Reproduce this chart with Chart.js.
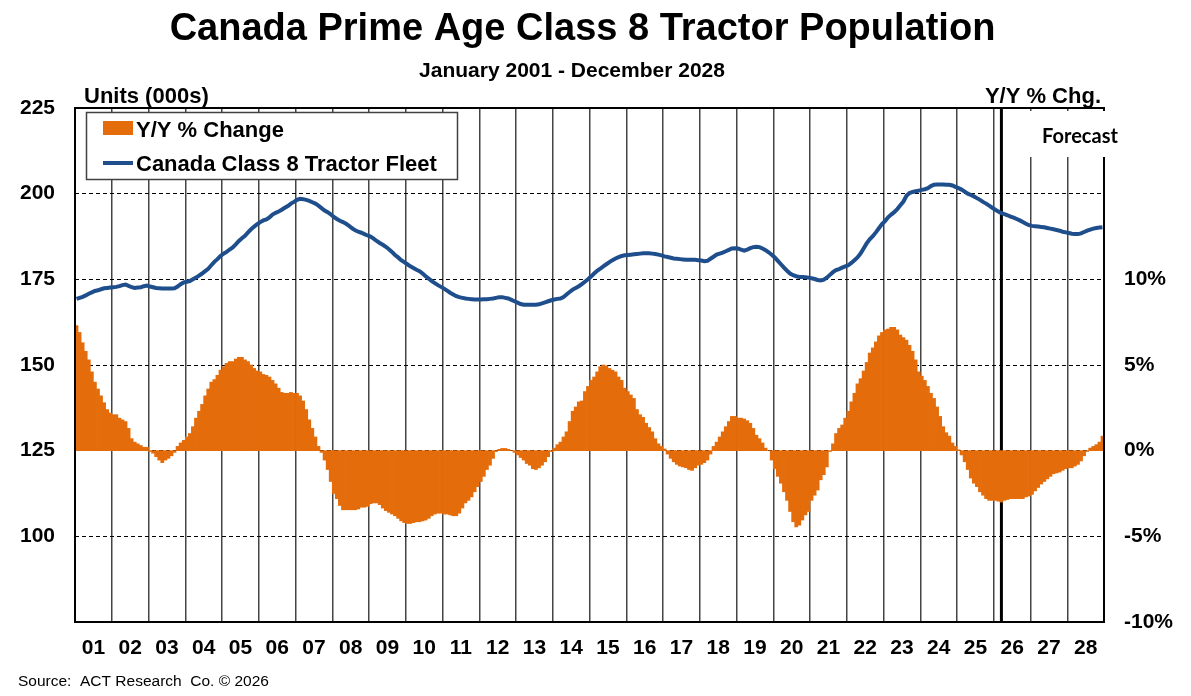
<!DOCTYPE html>
<html>
<head>
<meta charset="utf-8">
<script src="https://cdn.jsdelivr.net/npm/chart.js@4.4.1/dist/chart.umd.min.js"></script>
<style>
html,body{margin:0;padding:0;background:#fff;overflow:hidden}
canvas{display:block}
</style>
</head>
<body>
<canvas id="c" width="1191" height="696"></canvas>
<script>
// ---------- DATA ----------
const yearLabels = ['01','02','03','04','05','06','07','08','09','10','11','12','13','14',
                    '15','16','17','18','19','20','21','22','23','24','25','26','27','28'];
const monthNames = ['Jan','Feb','Mar','Apr','May','Jun','Jul','Aug','Sep','Oct','Nov','Dec'];

// Y/Y % change (right axis), monthly Jan 2001 - Dec 2028, one row per year
const yoyPct = [
  7.3, 6.9, 6.3, 5.8, 5.3, 4.6, 4.0, 3.6, 3.2, 2.8, 2.4, 2.2,
  2.1, 2.1, 1.9, 1.8, 1.7, 1.3, 0.7, 0.5, 0.4, 0.3, 0.2, 0.2,
  -0.05, -0.15, -0.35, -0.55, -0.7, -0.55, -0.45, -0.3, -0.1, 0.25, 0.45, 0.6,
  0.8, 1.0, 1.4, 1.9, 2.3, 2.7, 3.2, 3.6, 4.0, 4.15, 4.4, 4.7,
  4.9, 5.1, 5.2, 5.2, 5.35, 5.45, 5.45, 5.3, 5.2, 5.0, 4.8, 4.65,
  4.6, 4.45, 4.4, 4.3, 4.1, 3.9, 3.65, 3.4, 3.35, 3.35, 3.4, 3.35,
  3.35, 3.2, 2.9, 2.4, 1.8, 1.3, 0.8, 0.25, -0.1, -0.55, -1.1, -1.8,
  -2.5, -2.8, -3.2, -3.45, -3.45, -3.45, -3.45, -3.45, -3.4, -3.3, -3.3, -3.25,
  -3.1, -3.05, -3.05, -3.15, -3.35, -3.5, -3.6, -3.7, -3.8, -3.95, -4.1, -4.2,
  -4.25, -4.25, -4.2, -4.15, -4.15, -4.1, -4.05, -3.95, -3.8, -3.7, -3.65, -3.65,
  -3.7, -3.7, -3.75, -3.8, -3.8, -3.65, -3.35, -3.05, -2.9, -2.7, -2.4, -2.1,
  -1.8, -1.5, -1.1, -0.85, -0.45, -0.05, 0.08, 0.13, 0.13, 0.08, 0.0, -0.1,
  -0.25, -0.4, -0.55, -0.75, -0.85, -1.05, -1.1, -1.0, -0.85, -0.65, -0.35, -0.05,
  0.15, 0.35, 0.5, 0.8, 1.1, 1.7, 2.3, 2.55, 2.85, 2.9, 3.45, 3.75,
  4.1, 4.3, 4.6, 4.9, 5.0, 4.95, 4.8, 4.7, 4.6, 4.3, 4.1, 3.65,
  3.45, 3.25, 3.05, 2.4, 2.1, 1.95, 1.6, 1.35, 1.1, 0.7, 0.4, 0.25,
  0.1, -0.2, -0.45, -0.65, -0.8, -0.9, -0.95, -1.0, -1.1, -1.15, -1.0, -0.85,
  -0.8, -0.7, -0.55, -0.2, 0.25, 0.5, 0.8, 1.1, 1.4, 1.7, 2.0, 2.0,
  1.9, 1.9, 1.85, 1.75, 1.6, 1.3, 0.9, 0.7, 0.45, 0.15, 0.0, -0.55,
  -1.05, -1.5, -1.9, -2.4, -2.9, -3.55, -4.15, -4.45, -4.35, -4.05, -3.75, -3.55,
  -2.9, -2.6, -2.3, -1.7, -1.4, -0.95, -0.05, 0.4, 1.0, 1.3, 1.5, 1.9,
  2.3, 2.85, 3.35, 3.9, 4.2, 4.65, 5.15, 5.7, 6.0, 6.35, 6.7, 6.9,
  7.05, 7.1, 7.2, 7.2, 7.05, 6.75, 6.6, 6.45, 6.15, 5.8, 5.3, 4.6,
  4.35, 4.1, 3.75, 3.35, 3.05, 2.55, 2.0, 1.4, 1.05, 0.85, 0.45, 0.25,
  0.05, -0.25, -0.65, -1.1, -1.6, -1.9, -2.1, -2.4, -2.6, -2.8, -2.9, -2.9,
  -2.9, -2.95, -3.0, -2.9, -2.85, -2.8, -2.8, -2.8, -2.8, -2.8, -2.7, -2.65,
  -2.55, -2.35, -2.15, -1.95, -1.8, -1.65, -1.5, -1.35, -1.3, -1.25, -1.15, -1.05,
  -1.0, -1.0, -0.9, -0.8, -0.6, -0.3, -0.05, 0.15, 0.25, 0.35, 0.5, 0.85
];

// Canada Class 8 tractor fleet, units (000s), left axis
const fleet = [
  169.3, 169.6, 169.9, 170.3, 170.8, 171.2, 171.6, 171.8, 172.1, 172.4, 172.5, 172.6,
  172.7, 172.8, 173.0, 173.3, 173.5, 173.1, 172.7, 172.5, 172.6, 172.7, 173.0, 173.2,
  172.9, 172.7, 172.5, 172.4, 172.3, 172.3, 172.3, 172.3, 172.4, 172.9, 173.6, 174.1,
  174.3, 174.5, 175.0, 175.5, 176.1, 176.7, 177.4, 178.1, 179.1, 180.1, 180.9, 181.8,
  182.5, 183.0, 183.7, 184.3, 185.2, 186.2, 187.0, 187.7, 188.7, 189.6, 190.4, 191.1,
  191.7, 192.2, 192.5, 193.1, 193.9, 194.4, 194.8, 195.3, 195.9, 196.4, 197.1, 197.6,
  198.2, 198.5, 198.4, 198.2, 197.9, 197.5, 197.1, 196.5, 195.8, 195.1, 194.6, 194.0,
  193.2, 192.6, 192.1, 191.7, 191.2, 190.6, 189.9, 189.3, 188.9, 188.6, 188.2, 187.8,
  187.5, 186.9, 186.2, 185.6, 185.1, 184.5, 183.8, 183.0, 182.1, 181.4, 180.6, 180.0,
  179.4, 178.8, 178.3, 177.8, 177.4, 176.7, 175.9, 175.2, 174.5, 173.9, 173.3, 172.8,
  172.3, 171.7, 171.1, 170.6, 170.1, 169.8, 169.6, 169.4, 169.3, 169.2, 169.1, 169.1,
  169.1, 169.2, 169.2, 169.3, 169.4, 169.6, 169.8, 169.8, 169.6, 169.4, 169.0, 168.6,
  168.2, 167.8, 167.6, 167.6, 167.6, 167.6, 167.6, 167.7, 168.0, 168.3, 168.6, 168.9,
  169.1, 169.3, 169.4, 169.8, 170.6, 171.3, 172.0, 172.5, 173.0, 173.6, 174.3, 175.0,
  175.8, 176.7, 177.5, 178.1, 178.8, 179.4, 180.0, 180.6, 181.1, 181.5, 181.8, 182.0,
  182.1, 182.2, 182.3, 182.4, 182.5, 182.6, 182.6, 182.6, 182.5, 182.4, 182.2, 182.0,
  181.7, 181.5, 181.3, 181.1, 181.0, 180.9, 180.8, 180.7, 180.7, 180.7, 180.7, 180.6,
  180.5, 180.3, 180.4, 181.0, 181.6, 182.2, 182.5, 182.8, 183.2, 183.6, 184.0, 184.1,
  184.0, 183.7, 183.4, 183.7, 184.1, 184.4, 184.5, 184.4, 184.0, 183.5, 182.9, 182.2,
  181.4, 180.4, 179.4, 178.4, 177.5, 176.7, 176.2, 175.9, 175.7, 175.7, 175.6, 175.5,
  175.3, 175.1, 174.8, 174.7, 174.9, 175.5, 176.3, 177.1, 177.7, 178.0, 178.4, 178.8,
  179.1, 179.8, 180.6, 181.4, 182.5, 184.0, 185.5, 186.7, 187.6, 188.7, 189.9, 191.1,
  192.0, 193.1, 193.9, 194.6, 195.5, 196.6, 197.7, 199.4, 200.2, 200.5, 200.7, 200.9,
  201.1, 201.3, 201.6, 202.2, 202.6, 202.7, 202.7, 202.7, 202.6, 202.6, 202.4, 202.0,
  201.6, 201.2, 200.6, 200.0, 199.6, 199.2, 198.7, 198.2, 197.6, 197.1, 196.5, 195.9,
  195.3, 194.8, 194.3, 194.0, 193.7, 193.3, 193.0, 192.6, 192.2, 191.7, 191.2, 190.8,
  190.6, 190.5, 190.4, 190.3, 190.2, 190.0, 189.8, 189.6, 189.4, 189.2, 188.9, 188.7,
  188.5, 188.3, 188.2, 188.2, 188.4, 188.8, 189.2, 189.5, 189.8, 190.0, 190.1, 190.2
];

const leftTicks = [75, 100, 125, 150, 175, 200, 225];
const rightTicks = [-10, -5, 0, 5, 10, 15, 20];
const forecastIndex = 302; // Mar 2026 — start of forecast

const titleText = 'Canada Prime Age Class 8 Tractor Population';
const subtitleText = 'January 2001 - December 2028';
const seriesNames = ['Y/Y % Change', 'Canada Class 8 Tractor Fleet'];
const sourceText = 'Source:  ACT Research  Co. \u00A9 2026';

// ---------- CHART ----------
const FONT = '"Liberation Sans", Arial, Helvetica, sans-serif';
Chart.defaults.font.family = FONT;
Chart.defaults.color = '#000';

const ORANGE = '#E46C0A';
const BLUE = '#1F4E8C';

const categories = [];
yearLabels.forEach(y => monthNames.forEach(m => categories.push(m + ' ' + y)));

const decor = {
  id: 'decor',
  beforeDatasetsDraw(chart) {
    const {ctx, chartArea: a, scales} = chart;
    const px = scales.x.getPixelForValue(forecastIndex);
    ctx.save();
    ctx.strokeStyle = '#000';
    ctx.lineWidth = 3;
    ctx.beginPath();
    ctx.moveTo(px, a.top);
    ctx.lineTo(px, a.bottom);
    ctx.stroke();
    ctx.restore();
  },
  afterDraw(chart) {
    const {ctx, chartArea: a} = chart;
    ctx.save();
    // frame
    ctx.strokeStyle = '#000';
    ctx.lineWidth = 2;
    ctx.strokeRect(a.left, a.top, a.right - a.left, a.bottom - a.top);

    // forecast label box
    ctx.fillStyle = '#fff';
    ctx.fillRect(1010, 111, 120, 46);
    ctx.fillStyle = '#000';
    ctx.font = 'bold 20px Lato, "Open Sans", sans-serif';
    ctx.textAlign = 'center';
    ctx.textBaseline = 'alphabetic';
    ctx.fillText('Forecast', 1080, 143);

    // legend box
    ctx.fillStyle = '#fff';
    ctx.fillRect(86, 112, 372, 68);
    ctx.strokeStyle = '#404040';
    ctx.lineWidth = 1.5;
    ctx.strokeRect(86.5, 112.5, 371, 67);
    ctx.fillStyle = ORANGE;
    ctx.fillRect(103, 121, 30, 14);
    ctx.strokeStyle = BLUE;
    ctx.lineWidth = 4;
    ctx.beginPath();
    ctx.moveTo(103, 163);
    ctx.lineTo(133, 163);
    ctx.stroke();
    ctx.fillStyle = '#000';
    ctx.font = 'bold 22px ' + FONT;
    ctx.textAlign = 'left';
    ctx.fillText(seriesNames[0], 136, 137);
    ctx.fillText(seriesNames[1], 136, 170.5);

    // axis captions
    ctx.fillText('Units (000s)', 84, 103);
    ctx.textAlign = 'right';
    ctx.fillText('Y/Y % Chg.', 1101, 103);

    // titles
    ctx.textAlign = 'center';
    ctx.font = 'bold 38px ' + FONT;
    ctx.fillText(titleText, 582.5, 40);
    ctx.font = 'bold 21px ' + FONT;
    ctx.fillText(subtitleText, 572, 77);

    // source
    ctx.textAlign = 'left';
    ctx.font = '15.5px ' + FONT;
    ctx.fillText(sourceText, 18, 686);
    ctx.restore();
  }
};

new Chart(document.getElementById('c'), {
  type: 'bar',
  data: {
    labels: categories,
    datasets: [
      {
        type: 'line',
        label: seriesNames[1],
        data: fleet,
        yAxisID: 'y',
        borderColor: BLUE,
        backgroundColor: BLUE,
        borderWidth: 4,
        pointRadius: 0,
        tension: 0,
        order: 0
      },
      {
        type: 'bar',
        label: seriesNames[0],
        data: yoyPct,
        yAxisID: 'y1',
        backgroundColor: ORANGE,
        borderWidth: 0,
        barPercentage: 1,
        categoryPercentage: 1,
        order: 1
      }
    ]
  },
  options: {
    responsive: false,
    animation: false,
    devicePixelRatio: 1,
    layout: { padding: { top: 108, left: 0, right: 0, bottom: 0 } },
    plugins: {
      legend: { display: false },
      title: { display: false },
      tooltip: { enabled: false }
    },
    scales: {
      x: {
        type: 'category',
        offset: true,
        grid: {
          offset: true,
          drawTicks: false,
          color: c => (c.index % 12 === 0 ? '#444' : 'rgba(0,0,0,0)'),
          lineWidth: 1.5
        },
        border: { display: false },
        ticks: {
          autoSkip: false,
          maxRotation: 0,
          minRotation: 0,
          padding: 14,
          labelOffset: -1.5,
          font: { size: 21, weight: 'bold' },
          callback: (v, i) => (i % 12 === 6 ? yearLabels[Math.floor(i / 12)] : '')
        },
        afterFit: s => { s.height = 74; }
      },
      y: {
        position: 'left',
        min: leftTicks[0],
        max: leftTicks[leftTicks.length - 1],
        afterBuildTicks: s => { s.ticks = leftTicks.map(v => ({ value: v })); },
        grid: { drawTicks: false, color: '#000', lineWidth: 1 },
        border: { display: false, dash: [4, 3] },
        ticks: {
          padding: 20,
          font: { size: 21, weight: 'bold' },
          callback: v => (v === 75 ? '' : String(v))
        },
        afterFit: s => { s.width = 75; }
      },
      y1: {
        position: 'right',
        min: rightTicks[0],
        max: rightTicks[rightTicks.length - 1],
        afterBuildTicks: s => { s.ticks = rightTicks.map(v => ({ value: v })); },
        grid: { display: false, drawTicks: false },
        border: { display: false },
        ticks: {
          padding: 20,
          font: { size: 21, weight: 'bold' },
          callback: v => (v <= 10 ? v + '%' : '')
        },
        afterFit: s => { s.width = 87; }
      }
    }
  },
  plugins: [decor]
});
</script>
</body>
</html>
